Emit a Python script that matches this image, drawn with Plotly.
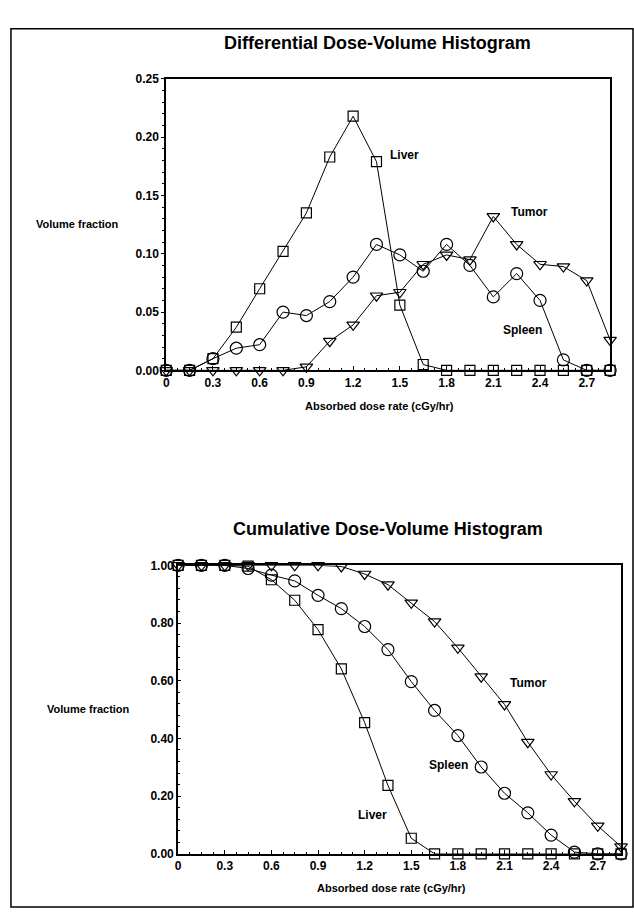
import plotly.graph_objects as go

W, H = 634, 915

dose = [0, 0.15, 0.3, 0.45, 0.6, 0.75, 0.9, 1.05, 1.2, 1.35,
        1.5, 1.65, 1.8, 1.95, 2.1, 2.25, 2.4, 2.55, 2.7, 2.85]

diff_liver = [0, 0, 0.010, 0.037, 0.070, 0.102, 0.135, 0.183, 0.218, 0.179,
              0.056, 0.005, 0, 0, 0, 0, 0, 0, 0, 0]
diff_spleen = [0, 0, 0.010, 0.019, 0.022, 0.050, 0.047, 0.059, 0.080, 0.108,
               0.099, 0.085, 0.108, 0.090, 0.063, 0.083, 0.060, 0.009, 0, 0]
diff_tumor = [0, 0, 0, 0, 0, 0, 0.003, 0.025, 0.039, 0.064,
              0.067, 0.091, 0.099, 0.095, 0.132, 0.108, 0.091, 0.089, 0.077, 0.026]

cum_liver = [1, 1, 1, 0.997, 0.950, 0.879, 0.777, 0.641, 0.455, 0.237,
             0.054, 0, 0, 0, 0, 0, 0, 0, 0, 0]
cum_spleen = [1, 1, 1, 0.989, 0.966, 0.946, 0.896, 0.850, 0.788, 0.708,
              0.597, 0.497, 0.410, 0.301, 0.210, 0.142, 0.065, 0.006, 0, 0]
cum_tumor = [1, 1, 1, 1, 1, 1, 1, 0.996, 0.970, 0.933,
             0.870, 0.805, 0.714, 0.614, 0.518, 0.387, 0.275, 0.182, 0.097, 0.025]

x_tickvals = [0, 0.3, 0.6, 0.9, 1.2, 1.5, 1.8, 2.1, 2.4, 2.7]
x_ticktext = ["0", "0.3", "0.6", "0.9", "1.2", "1.5", "1.8", "2.1", "2.4", "2.7"]
diff_yvals = [0, 0.05, 0.10, 0.15, 0.20, 0.25]
diff_ytext = ["0.00", "0.05", "0.10", "0.15", "0.20", "0.25"]
cum_yvals = [0, 0.2, 0.4, 0.6, 0.8, 1.0]
cum_ytext = ["0.00", "0.20", "0.40", "0.60", "0.80", "1.00"]

FONT = "Liberation Sans, Arial, sans-serif"


def px(x):
    return x / W


def py(y):
    return 1 - y / H


fig = go.Figure()

series = [
    ("Liver", "square-open", 10),
    ("Spleen", "circle-open", 12),
    ("Tumor", "triangle-down-open", 11),
]
diff_data = {"Liver": diff_liver, "Spleen": diff_spleen, "Tumor": diff_tumor}
cum_data = {"Liver": cum_liver, "Spleen": cum_spleen, "Tumor": cum_tumor}

for name, sym, size in series:
    fig.add_trace(go.Scatter(
        x=dose, y=diff_data[name], mode="lines+markers", name=name,
        line=dict(color="black", width=1),
        marker=dict(symbol=sym, size=size, color="black", line=dict(width=1.2, color="black")),
        cliponaxis=False, xaxis="x", yaxis="y", showlegend=False))
    fig.add_trace(go.Scatter(
        x=dose, y=cum_data[name], mode="lines+markers", name=name,
        line=dict(color="black", width=1),
        marker=dict(symbol=sym, size=size, color="black", line=dict(width=1.2, color="black")),
        cliponaxis=False, xaxis="x2", yaxis="y2", showlegend=False))

tickfont = dict(family=FONT, size=12, color="black", weight="bold")

xcommon = dict(
    range=[0, 2.85], tickmode="array", tickvals=x_tickvals, ticktext=x_ticktext,
    ticks="inside", ticklen=4, tickwidth=1.2, tickcolor="black",
    minor=dict(tick0=0, dtick=0.075, ticks="inside", ticklen=2, tickcolor="black", tickwidth=1),
    showline=True, linecolor="black", linewidth=2, mirror=True,
    showgrid=False, zeroline=False, tickfont=tickfont, fixedrange=True,
)

fig.update_layout(
    width=W, height=H,
    margin=dict(l=0, r=0, t=0, b=0),
    paper_bgcolor="white", plot_bgcolor="white",
    xaxis=dict(domain=[px(164), px(610)], anchor="y", **xcommon),
    yaxis=dict(domain=[py(369), py(73)], anchor="x", range=[0, 0.25],
               tickmode="array", tickvals=diff_yvals, ticktext=diff_ytext,
               ticks="outside", ticklen=3, tickwidth=1.2, tickcolor="black",
               minor=dict(tick0=0, dtick=0.01, ticks="outside", ticklen=2, tickcolor="black"),
               showline=True, linecolor="black", linewidth=2, mirror=True,
               showgrid=False, zeroline=False, tickfont=tickfont, fixedrange=True),
    xaxis2=dict(domain=[px(176), px(621)], anchor="y2", **xcommon),
    yaxis2=dict(domain=[py(860), py(567)], anchor="x2", range=[0, 1.0],
                tickmode="array", tickvals=cum_yvals, ticktext=cum_ytext,
                ticks="inside", ticklen=3, tickwidth=1.2, tickcolor="black",
                minor=dict(tick0=0, dtick=0.04, ticks="inside", ticklen=2, tickcolor="black"),
                showline=True, linecolor="black", linewidth=2, mirror=True,
                showgrid=False, zeroline=False, tickfont=tickfont, fixedrange=True),
)

title_font = dict(family=FONT, size=18, color="black", weight="bold")
lab_font = dict(family=FONT, size=11, color="black", weight="bold")
curve_font = dict(family=FONT, size=12, color="black", weight="bold")

ann = [
    dict(text="Differential Dose-Volume Histogram", x=px(376), y=py(37), font=title_font),
    dict(text="Cumulative Dose-Volume Histogram", x=px(387), y=py(530), font=title_font),
    dict(text="Volume fraction", x=px(75), y=py(220), font=lab_font),
    dict(text="Volume fraction", x=px(86), y=py(713), font=lab_font),
    dict(text="Absorbed dose rate (cGy/hr)", x=px(378), y=py(405), font=lab_font),
    dict(text="Absorbed dose rate (cGy/hr)", x=px(390), y=py(895), font=lab_font),
]
for a in ann:
    fig.add_annotation(xref="paper", yref="paper", showarrow=False,
                       xanchor="center", yanchor="middle", **a)

curve_labels = [
    ("Liver", 1.527, 0.185, "x", "y"),
    ("Tumor", 2.33, 0.136, "x", "y"),
    ("Spleen", 2.29, 0.035, "x", "y"),
    ("Tumor", 2.255, 0.591, "x2", "y2"),
    ("Spleen", 1.74, 0.307, "x2", "y2"),
    ("Liver", 1.25, 0.136, "x2", "y2"),
]
for t, x, y, xr, yr in curve_labels:
    fig.add_annotation(text=t, x=x, y=y, xref=xr, yref=yr, showarrow=False,
                       xanchor="center", yanchor="middle", font=curve_font)

fig.add_shape(type="rect", xref="paper", yref="paper",
              x0=px(8), x1=px(633), y0=py(914), y1=py(22),
              line=dict(color="black", width=1.5))

fig.write_html(
    "out.html",
    config={"displayModeBar": False},
    post_script="document.body.style.margin='0';document.body.style.padding='0';"
                "document.body.style.overflow='hidden';"
                "document.documentElement.style.overflow='hidden';",
)
